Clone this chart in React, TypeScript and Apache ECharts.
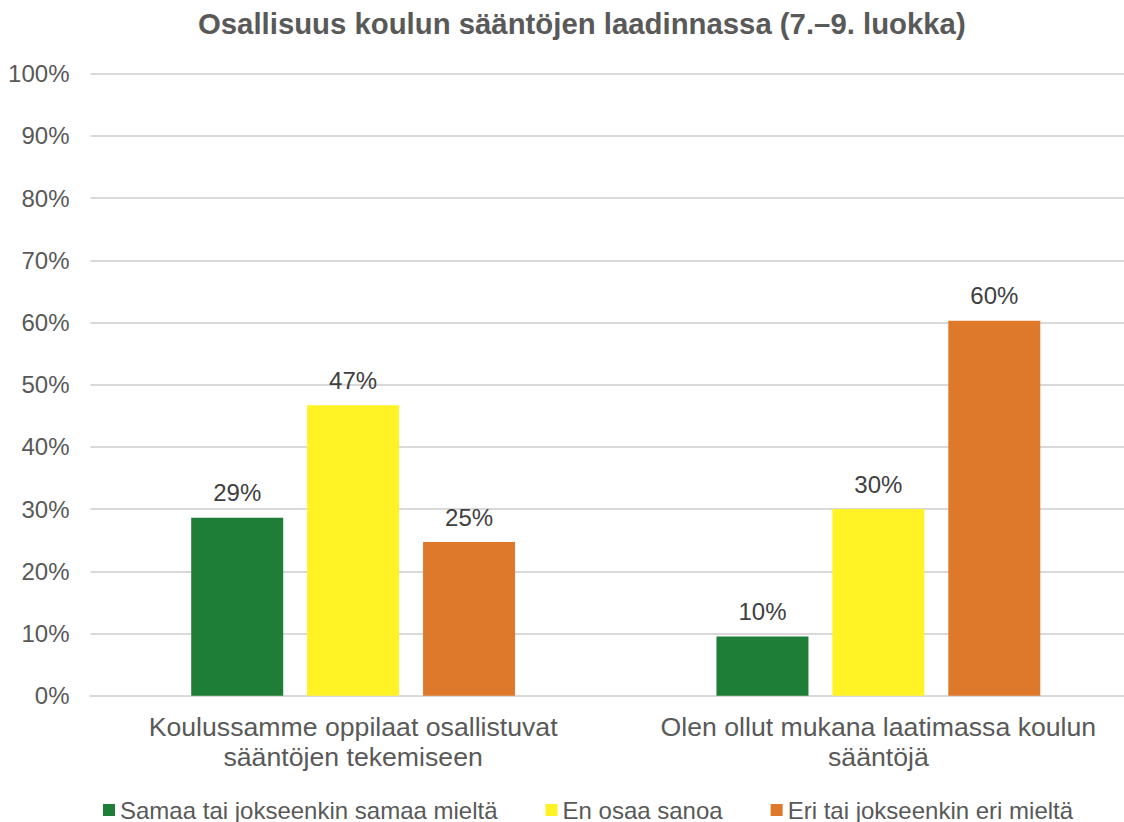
import React, { useEffect, useRef } from "react";
import * as echarts from "echarts";

const title = "Osallisuus koulun sääntöjen laadinnassa (7.–9. luokka)";
const categories = [
  "Koulussamme oppilaat osallistuvat\nsääntöjen tekemiseen",
  "Olen ollut mukana laatimassa koulun\nsääntöjä",
];
const seriesNames = [
  "Samaa tai jokseenkin samaa mieltä",
  "En osaa sanoa",
  "Eri tai jokseenkin eri mieltä",
];
const agreeValues = [28.6, 9.5];
const unsureValues = [46.7, 30.0];
const disagreeValues = [24.7, 60.3];
const seriesColors = ["#1E7D36", "#FFF225", "#DE792C"];

const FONT = '"Liberation Sans", Arial, sans-serif';

export default function App() {
  const ref = useRef<HTMLDivElement>(null);
  useEffect(() => {
    document.body.style.margin = "0";
    const chart = echarts.init(ref.current!, null, { renderer: "svg" });
    const valueSets = [agreeValues, unsureValues, disagreeValues];
    chart.setOption({
      animation: false,
      backgroundColor: "#ffffff",
      textStyle: { fontFamily: FONT },
      title: {
        text: title,
        left: 198,
        top: 9,
        padding: 0,
        textStyle: {
          fontFamily: FONT,
          fontSize: 29.33,
          fontWeight: "bold",
          color: "#595959",
        },
      },
      legend: {
        left: 103,
        top: 798,
        padding: 0,
        itemWidth: 12,
        itemHeight: 12,
        itemGap: 48,
        icon: "rect",
        textStyle: { fontFamily: FONT, fontSize: 24, color: "#595959" },
        data: seriesNames,
      },
      grid: { left: 90.5, right: 0, top: 73.7, bottom: 126.3, containLabel: false },
      xAxis: {
        type: "category",
        data: categories,
        axisTick: { show: false },
        axisLine: { show: true, lineStyle: { color: "#D9D9D9", width: 2 } },
        axisLabel: {
          fontFamily: FONT,
          fontSize: 26.67,
          lineHeight: 30,
          color: "#595959",
          margin: 16,
          interval: 0,
        },
      },
      yAxis: {
        type: "value",
        min: 0,
        max: 100,
        interval: 10,
        axisLine: { show: false },
        axisTick: { show: false },
        splitLine: { lineStyle: { color: "#D9D9D9", width: 2 } },
        axisLabel: {
          formatter: "{value}%",
          fontFamily: FONT,
          fontSize: 24,
          color: "#595959",
          margin: 21,
        },
      },
      series: seriesNames.map((name, i) => ({
        name,
        type: "bar",
        data: valueSets[i],
        barWidth: 92,
        barGap: "26%",
        itemStyle: { color: seriesColors[i] },
        label: {
          show: true,
          position: "top",
          distance: 13,
          fontFamily: FONT,
          fontSize: 24,
          color: "#404040",
          formatter: (p: any) => Math.round(p.value) + "%",
        },
      })),
    });
    return () => chart.dispose();
  }, []);
  return (
    <div style={{ width: 1124, height: 822, overflow: "hidden", position: "relative" }}>
      <div ref={ref} style={{ width: 1141, height: 822 }} />
    </div>
  );
}
